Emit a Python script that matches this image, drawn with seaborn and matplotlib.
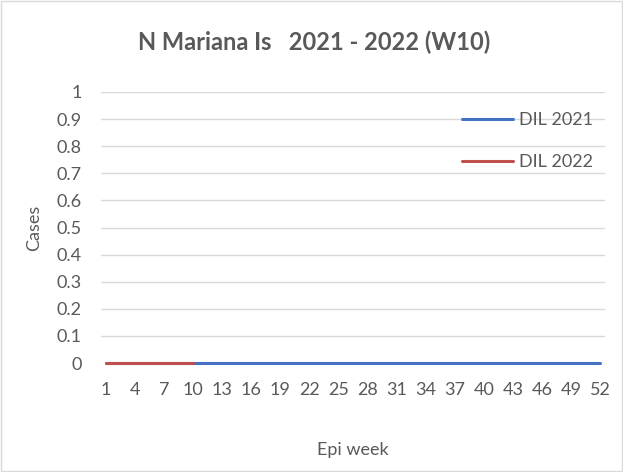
import pandas as pd
import matplotlib
matplotlib.use('Agg')
import matplotlib.pyplot as plt
import seaborn as sns
from matplotlib.patches import Rectangle

weeks_2021 = list(range(1, 53))
cases_2021 = [0] * 52
weeks_2022 = list(range(1, 11))
cases_2022 = [0] * 10
xticks = list(range(1, 53, 3))
yticks = [0, 0.1, 0.2, 0.3, 0.4, 0.5, 0.6, 0.7, 0.8, 0.9, 1]
ytick_labels = ['0', '0.1', '0.2', '0.3', '0.4', '0.5', '0.6', '0.7', '0.8', '0.9', '1']

sns.set_style('white')
plt.rcParams['font.family'] = ['Lato', 'DejaVu Sans']
txt = '#595959'

df21 = pd.DataFrame({'week': weeks_2021, 'cases': cases_2021})
df22 = pd.DataFrame({'week': weeks_2022, 'cases': cases_2022})

fig = plt.figure(figsize=(6.23, 4.72), dpi=100)
ax = fig.add_axes([0.1621, 0.2309, 0.809, 0.5742])

sns.lineplot(data=df21, x='week', y='cases', color='#4472C4', linewidth=2.2,
             label='DIL 2021', ax=ax, clip_on=False)
sns.lineplot(data=df22, x='week', y='cases', color='#C0504D', linewidth=2.2,
             label='DIL 2022', ax=ax, clip_on=False)

ax.set_xlim(0.5, 52.5)
ax.set_ylim(0, 1)
ax.set_yticks(yticks)
ax.set_yticklabels(ytick_labels)
ax.set_xticks(xticks)
ax.grid(axis='y', color='#D9D9D9', linewidth=1)
ax.set_axisbelow(True)
for s in ax.spines.values():
    s.set_visible(False)
ax.tick_params(axis='both', length=0, labelsize=13, colors=txt)
ax.tick_params(axis='y', pad=14)
ax.tick_params(axis='x', pad=14)
ax.set_xlabel('Epi week', fontsize=13, color=txt, labelpad=31)
ax.set_ylabel('Cases', fontsize=13, color=txt, labelpad=10)

fig.suptitle('N Mariana Is   2021 - 2022 (W10)', x=0.505, y=0.935, fontsize=17,
             fontweight='bold', color=txt)

leg = ax.legend(loc='upper left', bbox_to_anchor=(0.7416, 0.7627), bbox_transform=fig.transFigure,
                frameon=False, fontsize=13, handlelength=2.8, handletextpad=0.33,
                labelspacing=1.45, borderpad=0, borderaxespad=0)
for t in leg.get_texts():
    t.set_color(txt)

fig.patches.append(Rectangle((0.002, 0.003), 0.996, 0.994, transform=fig.transFigure,
                             fill=False, edgecolor='#D9D9D9', linewidth=1))

fig.savefig('out.png', dpi=100, facecolor='white')
